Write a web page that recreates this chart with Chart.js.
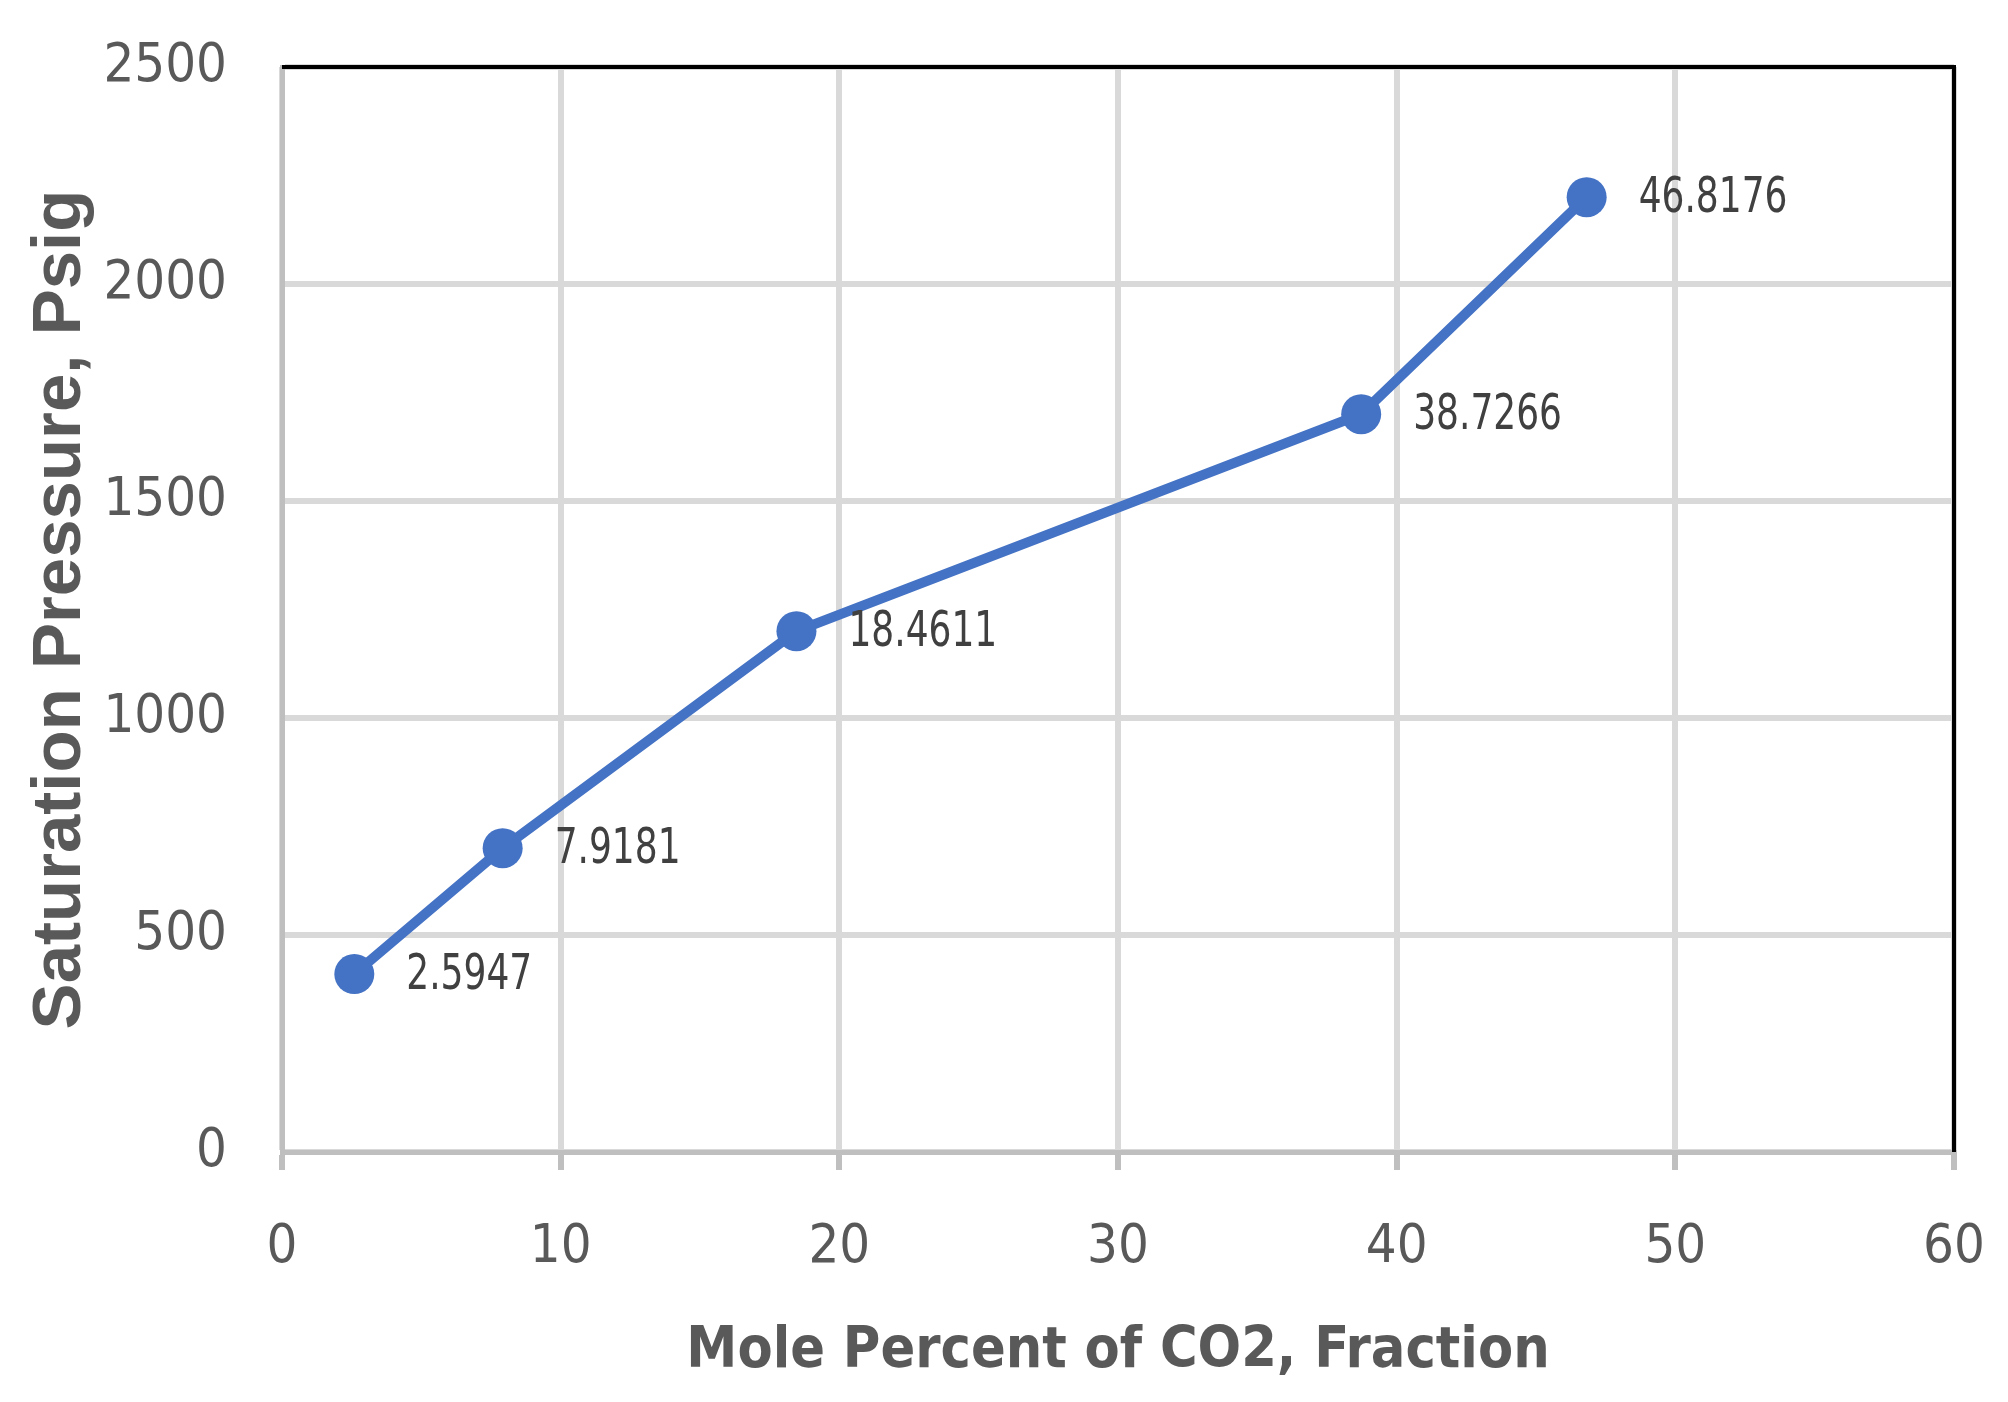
<!DOCTYPE html>
<html>
<head>
<meta charset="utf-8">
<title>Saturation Pressure vs CO2</title>
<script src="https://cdn.jsdelivr.net/npm/chart.js@4.4.1/dist/chart.umd.min.js"></script>
<style>
  html, body { margin: 0; padding: 0; background: #ffffff; }
  #wrap { width: 2008px; height: 1402px; }
</style>
</head>
<body>
<div id="wrap"><canvas id="myChart" width="2008" height="1402"></canvas></div>
<script>
var molePercent = [2.5947, 7.9181, 18.4611, 38.7266, 46.8176];
var satPressure = [410, 700, 1200, 1700, 2200];
var pointLabels = ['2.5947', '7.9181', '18.4611', '38.7266', '46.8176'];

var narrow = "'Liberation Sans Narrow', 'DejaVu Sans Condensed', sans-serif";

// labels to the right of each point (squeezed a bit, like the original)
var pointLabelPlugin = {
    id: 'pointLabels',
    afterDatasetsDraw: function(chart) {
        var ctx = chart.ctx;
        var meta = chart.getDatasetMeta(0);
        ctx.save();
        ctx.font = '50px ' + narrow;
        ctx.fillStyle = '#404040';
        ctx.textAlign = 'left';
        ctx.textBaseline = 'middle';
        meta.data.forEach(function(pt, i) {
            ctx.save();
            ctx.translate(pt.x + 52, pt.y + 2);
            ctx.scale(0.8, 1);
            ctx.fillText(pointLabels[i], 0, 0);
            ctx.restore();
        });
        ctx.restore();
    }
};

// black frame on top and right side of the plot
var framePlugin = {
    id: 'frame',
    afterDraw: function(chart) {
        var a = chart.chartArea;
        var ctx = chart.ctx;
        ctx.save();
        ctx.strokeStyle = '#000000';
        ctx.lineWidth = 4;
        ctx.beginPath();
        ctx.moveTo(a.left, a.top);
        ctx.lineTo(a.right, a.top);
        ctx.lineTo(a.right, a.bottom);
        ctx.stroke();
        ctx.restore();
    }
};

var ctx = document.getElementById('myChart').getContext('2d');
var myChart = new Chart(ctx, {
    type: 'scatter',
    data: {
        datasets: [{
            label: 'Saturation Pressure',
            data: molePercent.map(function(x, i) { return {x: x, y: satPressure[i]}; }),
            showLine: true,
            borderColor: '#4472C4',
            backgroundColor: '#4472C4',
            borderWidth: 10,
            pointRadius: 20,
            pointHoverRadius: 20,
            pointBorderWidth: 0
        }]
    },
    options: {
        responsive: false,
        devicePixelRatio: 1,
        animation: false,
        layout: {
            padding: {top: 67, right: 54, left: 0, bottom: 0}
        },
        plugins: {
            legend: {display: false},
            tooltip: {enabled: false}
        },
        scales: {
            x: {
                type: 'linear',
                min: 0,
                max: 60,
                afterFit: function(scale) {
                    scale.height = 250;
                    scale.paddingLeft = 0;
                    scale.paddingRight = 0;
                },
                ticks: {
                    stepSize: 10,
                    color: '#595959',
                    padding: 46,
                    font: {family: narrow, size: 54}
                },
                grid: {
                    color: '#d9d9d9',
                    lineWidth: 6,
                    drawTicks: true,
                    tickLength: 18,
                    tickColor: '#bfbfbf'
                },
                border: {color: '#bfbfbf', width: 5},
                title: {
                    display: true,
                    text: 'Mole Percent of CO2, Fraction',
                    color: '#595959',
                    font: {family: narrow, size: 57, weight: 'bold'},
                    padding: {top: 0, bottom: 16}
                }
            },
            y: {
                min: 0,
                max: 2500,
                afterFit: function(scale) {
                    scale.width = 282;
                    scale.paddingTop = 0;
                    scale.paddingBottom = 0;
                },
                ticks: {
                    stepSize: 500,
                    color: '#595959',
                    padding: 55,
                    font: {family: narrow, size: 54},
                    callback: function(v) { return String(v); }
                },
                grid: {
                    color: '#d9d9d9',
                    lineWidth: 6,
                    drawTicks: false
                },
                border: {color: '#bfbfbf', width: 5},
                title: {
                    display: true,
                    text: 'Saturation Pressure, Psig',
                    color: '#595959',
                    font: {family: "'Liberation Sans', Arial, sans-serif", size: 69, weight: 'bold'},
                    padding: {top: 20, bottom: 0}
                }
            }
        }
    },
    plugins: [pointLabelPlugin, framePlugin]
});
</script>
</body>
</html>
